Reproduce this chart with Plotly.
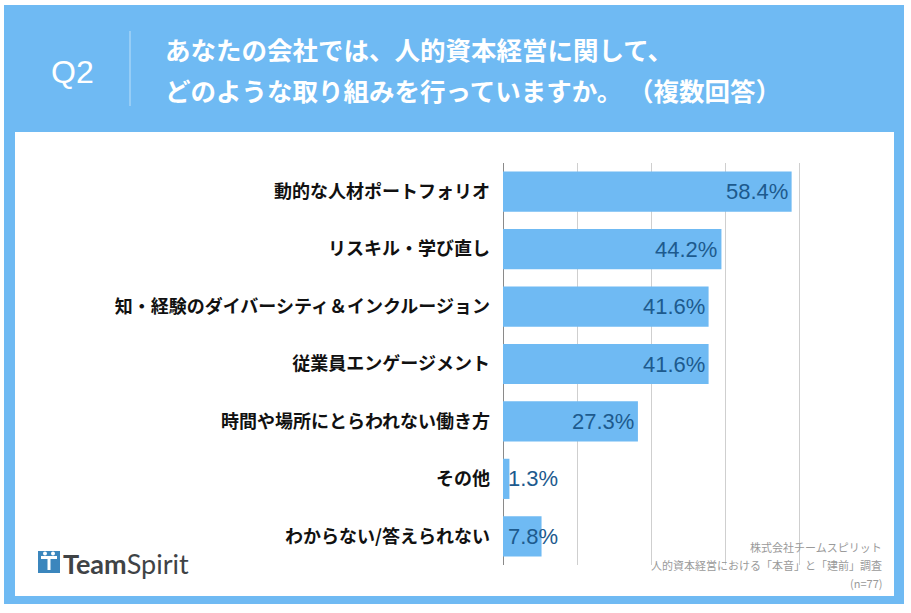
import plotly.graph_objects as go

# data
categories = [
    "動的な人材ポートフォリオ",
    "リスキル・学び直し",
    "知・経験のダイバーシティ＆インクルージョン",
    "従業員エンゲージメント",
    "時間や場所にとらわれない働き方",
    "その他",
    "わからない/答えられない",
]
values = [58.4, 44.2, 41.6, 41.6, 27.3, 1.3, 7.8]
tick_values = [0, 15, 30, 45, 60]

question_no = "Q2"
title_lines = ["あなたの会社では、人的資本経営に関して、",
               "どのような取り組みを行っていますか。 （複数回答）"]
source_lines = ["株式会社チームスピリット",
                "人的資本経営における「本音」と「建前」調査",
                "(n=77)"]

W, H = 911, 613
L, R, T, B = 503, 109, 163, 48
BLUE = "#6fbaf3"
JP = "Noto Sans CJK JP"

def px(x):
    return (x - L) / (W - L - R)

def py(y):
    return 1 - (y - T) / (H - T - B)

fig = go.Figure()
fig.add_trace(go.Bar(
    x=values, y=categories, orientation="h",
    marker=dict(color=BLUE, line=dict(width=0)),
    width=0.7, hoverinfo="skip",
))

annotations = []
# value labels
for cat, v in zip(categories, values):
    big = v >= 20
    annotations.append(dict(
        x=v if big else 0, y=cat, xref="x", yref="y",
        text=f"{v}%", showarrow=False,
        xanchor="right" if big else "left", yanchor="middle",
        xshift=-2 if big else 3,
        font=dict(family="Liberation Sans, Arial", size=22, color="#1d5a8e"),
    ))

# header
annotations.append(dict(x=px(72), y=py(72), xref="paper", yref="paper",
                        text=question_no, showarrow=False,
                        xanchor="center", yanchor="middle",
                        font=dict(family="Liberation Sans, Arial", size=32, color="white")))
for i, line in enumerate(title_lines):
    annotations.append(dict(x=px(163), y=py(48 + 41 * i), xref="paper", yref="paper",
                            text=f"<b>{line}</b>", showarrow=False,
                            xanchor="left", yanchor="middle",
                            font=dict(family=JP, size=25.5, color="white")))

# source
for i, line in enumerate(source_lines):
    annotations.append(dict(x=px(884), y=py(547 + 18 * i), xref="paper", yref="paper",
                            text=line, showarrow=False,
                            xanchor="right", yanchor="middle",
                            font=dict(family=JP, size=11, color="#9a9a9a")))

# logo text
annotations.append(dict(x=px(61), y=py(563), xref="paper", yref="paper",
                        text="<b>Team</b>Spirit", showarrow=False,
                        xanchor="left", yanchor="middle",
                        font=dict(family="Lato, Open Sans", size=27, color="#3f4346")))

shapes = [
    dict(type="rect", xref="paper", yref="paper", x0=px(4), x1=px(904), y0=py(5), y1=py(604),
         fillcolor=BLUE, line=dict(width=0), layer="below"),
    dict(type="rect", xref="paper", yref="paper", x0=px(15), x1=px(894), y0=py(132), y1=py(596),
         fillcolor="white", line=dict(width=0), layer="below"),
    dict(type="line", xref="paper", yref="paper", x0=px(130), x1=px(130), y0=py(31), y1=py(106),
         line=dict(color="rgba(255,255,255,0.55)", width=1)),
    # logo icon
    dict(type="rect", xref="paper", yref="paper", x0=px(38), x1=px(60), y0=py(551), y1=py(573),
         fillcolor="#3b86bd", line=dict(width=0)),
    dict(type="rect", xref="paper", yref="paper", x0=px(41), x1=px(57), y0=py(556), y1=py(559),
         fillcolor="white", line=dict(width=0)),
    dict(type="rect", xref="paper", yref="paper", x0=px(47.5), x1=px(50.5), y0=py(556), y1=py(570),
         fillcolor="white", line=dict(width=0)),
    dict(type="circle", xref="paper", yref="paper", x0=px(43), x1=px(47), y0=py(551.5), y1=py(555.5),
         fillcolor="white", line=dict(width=0)),
    dict(type="circle", xref="paper", yref="paper", x0=px(51), x1=px(55), y0=py(551.5), y1=py(555.5),
         fillcolor="white", line=dict(width=0)),
]

fig.update_layout(
    width=W, height=H,
    margin=dict(l=L, r=R, t=T, b=B),
    paper_bgcolor="white", plot_bgcolor="rgba(0,0,0,0)",
    showlegend=False,
    bargap=0.3,
    annotations=annotations,
    shapes=shapes,
    xaxis=dict(range=[0, 60.5], tickvals=tick_values, showticklabels=False,
               showgrid=True, gridcolor="#cfcfcf", gridwidth=1,
               zeroline=True, zerolinecolor="#8a8a8a", zerolinewidth=1,
               showline=False, fixedrange=True),
    yaxis=dict(autorange="reversed", showgrid=False, ticks="", ticklabelstandoff=12,
               tickvals=categories, ticktext=[f"<b>{c}</b>" for c in categories],
               tickfont=dict(family=JP, size=18, color="#111111"),
               showline=False, fixedrange=True),
)

# drop the page's default body margin so the figure sits at 0,0
fig.write_html("out.html", config={"displayModeBar": False},
               post_script="document.body.style.margin='0';")
